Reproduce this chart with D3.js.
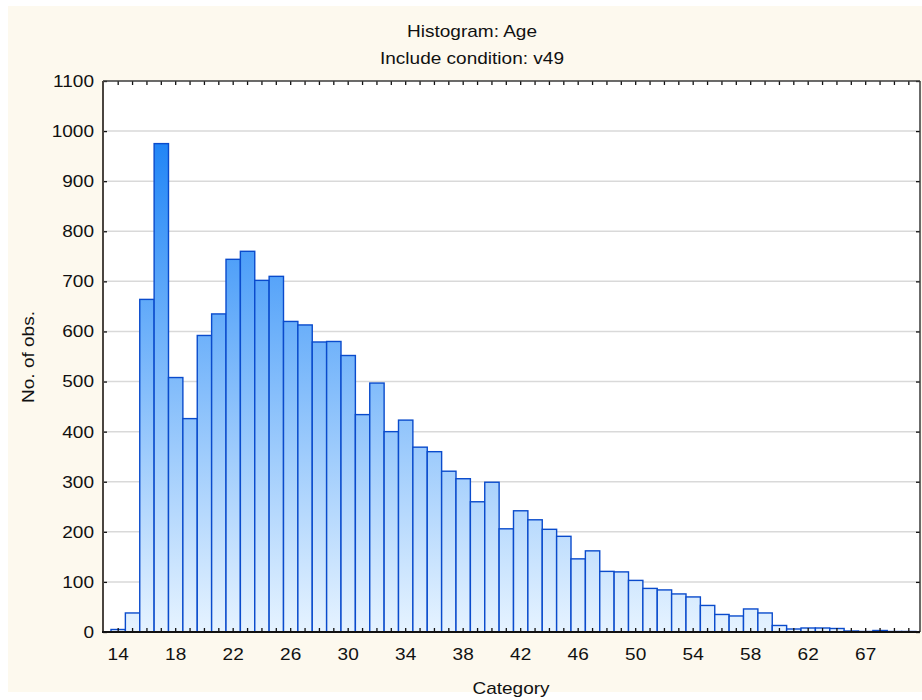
<!DOCTYPE html>
<html>
<head>
<meta charset="utf-8">
<script src="https://cdn.jsdelivr.net/npm/d3@7"></script>
<style>
  html, body { margin: 0; padding: 0; background: #ffffff; }
  svg { display: block; }
  text { font-family: "Liberation Sans", Arial, Helvetica, sans-serif; fill: #111; }
</style>
</head>
<body>
<svg id="chart" width="922" height="700"></svg>
<script>
// Age categories (66 does not occur in the data)
const categories = [14,15,16,17,18,19,20,21,22,23,24,25,26,27,28,29,30,31,32,33,34,35,36,37,38,39,
  40,41,42,43,44,45,46,47,48,49,50,51,52,53,54,55,56,57,58,59,60,61,62,63,64,65,67,68,69,70];
// Number of observations per category
const counts = [5,38,664,975,508,426,592,635,744,760,702,710,620,613,579,580,552,434,497,400,423,369,
  360,321,306,260,299,206,242,224,205,191,146,162,121,120,103,87,84,76,70,53,35,32,46,38,13,6,8,8,7,2,1,3,1,1];
const yTicks = [0,100,200,300,400,500,600,700,800,900,1000,1100];
const xLabelEvery = 4;

const W = 922, H = 700;
const plot = { left: 103, right: 920, top: 81, bottom: 632 };
const SX = 1.12;   // horizontal stretch of the lettering
const FS = 17;     // font size

const svg = d3.select("#chart");

// Panel background
svg.append("rect").attr("x", 8).attr("y", 6).attr("width", W - 8).attr("height", 686)
  .attr("fill", "#fdf9ee");

// Plot area
svg.append("rect").attr("x", plot.left).attr("y", plot.top)
  .attr("width", plot.right - plot.left).attr("height", plot.bottom - plot.top)
  .attr("fill", "#ffffff");

const x = d3.scaleBand().domain(categories).range([111, 916]).paddingInner(0).paddingOuter(0);
const y = d3.scaleLinear().domain([0, 1100]).range([plot.bottom, plot.top]);

// Vertical blue gradient shared by all bars
const defs = svg.append("defs");
const grad = defs.append("linearGradient").attr("id", "barFill")
  .attr("gradientUnits", "userSpaceOnUse")
  .attr("x1", 0).attr("x2", 0).attr("y1", plot.top).attr("y2", plot.bottom);
grad.append("stop").attr("offset", "0%").attr("stop-color", "#0877f5");
grad.append("stop").attr("offset", "45%").attr("stop-color", "#6cb0fa");
grad.append("stop").attr("offset", "100%").attr("stop-color", "#e6f3ff");

// Horizontal gridlines
svg.append("g").selectAll("line").data(yTicks.filter(d => d > 0 && d < 1100)).join("line")
  .attr("x1", plot.left).attr("x2", plot.right)
  .attr("y1", d => y(d)).attr("y2", d => y(d))
  .attr("stroke", "#d9d9d9").attr("stroke-width", 1.5);

// Bars
const data = categories.map((c, i) => ({ cat: c, n: counts[i] }));
svg.append("g").selectAll("rect").data(data).join("rect")
  .attr("x", d => x(d.cat))
  .attr("y", d => y(d.n))
  .attr("width", x.bandwidth())
  .attr("height", d => y(0) - y(d.n))
  .attr("fill", "url(#barFill)")
  .attr("stroke", "#0a4bcc")
  .attr("stroke-width", 1.4);

// Axes (ticks point into the plot)
const gLeft = svg.append("g").attr("transform", `translate(${plot.left},0)`)
  .call(d3.axisLeft(y).tickValues(yTicks).tickFormat(d3.format("d"))
    .tickSizeInner(-4).tickSizeOuter(0).tickPadding(10));
gLeft.selectAll("text").attr("x", -9 / SX).attr("transform", `scale(${SX},1)`);

const gRight = svg.append("g").attr("transform", `translate(${plot.right},0)`)
  .call(d3.axisRight(y).tickValues(yTicks).tickSizeInner(-4).tickSizeOuter(0).tickFormat(""));

const gTop = svg.append("g").attr("transform", `translate(0,${plot.top})`)
  .call(d3.axisTop(x).tickSizeInner(-4).tickSizeOuter(0).tickFormat(""));

const gBottom = svg.append("g").attr("transform", `translate(0,${plot.bottom})`)
  .call(d3.axisBottom(x).tickSizeInner(-4).tickSizeOuter(0).tickPadding(16)
    .tickFormat((d, i) => i % xLabelEvery === 0 ? d : ""));
gBottom.selectAll("text").attr("transform", `scale(${SX},1)`);

[gLeft, gRight, gTop, gBottom].forEach(g => {
  g.select(".domain").remove();
  g.selectAll(".tick line").attr("stroke", "#111").attr("stroke-width", 1.3);
  g.selectAll("text").attr("fill", "#111").attr("font-size", FS)
    .attr("font-family", "Liberation Sans, Arial, sans-serif");
});

// Frame
const frame = svg.append("g");
frame.append("line").attr("x1", plot.left).attr("x2", plot.right).attr("y1", plot.top).attr("y2", plot.top)
  .attr("stroke", "#3a3a3a").attr("stroke-width", 1.5);
frame.append("line").attr("x1", plot.right).attr("x2", plot.right).attr("y1", plot.top).attr("y2", plot.bottom)
  .attr("stroke", "#3a3a3a").attr("stroke-width", 1.5);
frame.append("line").attr("x1", plot.left).attr("x2", plot.left).attr("y1", plot.top).attr("y2", plot.bottom + 1)
  .attr("stroke", "#4a4540").attr("stroke-width", 2);
frame.append("line").attr("x1", plot.left - 1).attr("x2", plot.right).attr("y1", plot.bottom).attr("y2", plot.bottom)
  .attr("stroke", "#111").attr("stroke-width", 2);

// Titles
function label(str, px, py, opts = {}) {
  const rot = opts.rotate ? ` rotate(${opts.rotate})` : "";
  svg.append("text")
    .attr("transform", `translate(${px},${py})${rot} scale(${SX},1)`)
    .attr("text-anchor", opts.anchor || "middle")
    .attr("font-size", opts.size || FS)
    .text(str);
}
label("Histogram: Age", 472, 37);
label("Include condition: v49", 472, 64);
label("Category", 511, 694);
label("No. of obs.", 34, 357, { rotate: -90 });
</script>
</body>
</html>
